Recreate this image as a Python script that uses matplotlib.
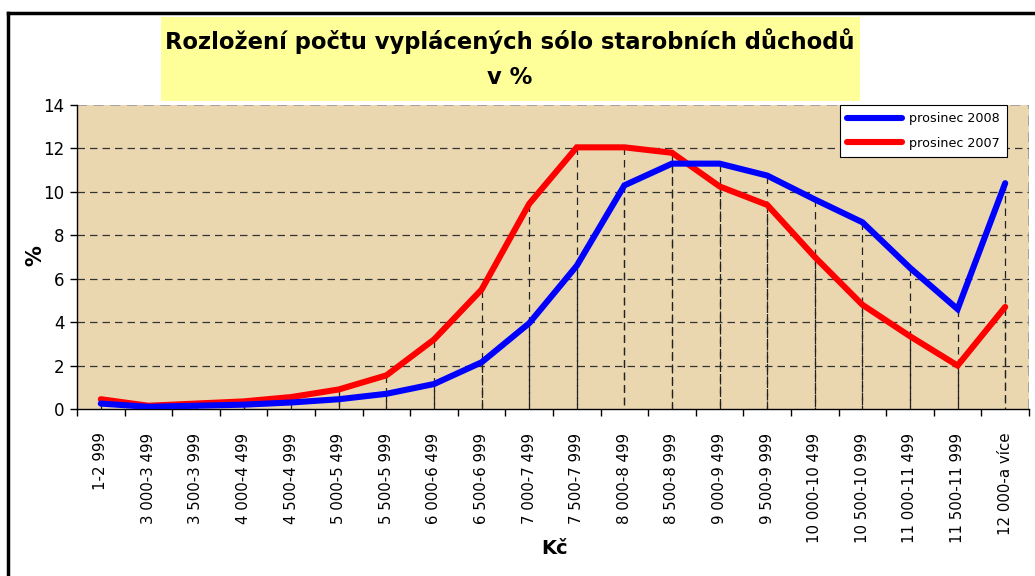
import matplotlib
matplotlib.use("Agg")
import matplotlib.pyplot as plt
from matplotlib.lines import Line2D
from matplotlib.patches import Rectangle

categories = ["1-2 999", "3 000-3 499", "3 500-3 999", "4 000-4 499", "4 500-4 999",
              "5 000-5 499", "5 500-5 999", "6 000-6 499", "6 500-6 999", "7 000-7 499",
              "7 500-7 999", "8 000-8 499", "8 500-8 999", "9 000-9 499", "9 500-9 999",
              "10 000-10 499", "10 500-10 999", "11 000-11 499", "11 500-11 999", "12 000-a více"]
dec2008 = [0.25, 0.1, 0.15, 0.2, 0.3, 0.45, 0.7, 1.15, 2.15, 3.95,
           6.6, 10.3, 11.3, 11.3, 10.75, 9.65, 8.6, 6.5, 4.6, 10.4]
dec2007 = [0.45, 0.15, 0.25, 0.35, 0.55, 0.9, 1.55, 3.2, 5.5, 9.45,
           12.05, 12.05, 11.8, 10.25, 9.4, 7.0, 4.8, 3.35, 2.0, 4.7]
series_names = ["prosinec 2008", "prosinec 2007"]
yticks = [0, 2, 4, 6, 8, 10, 12, 14]

W, H = 1035, 576
fig = plt.figure(figsize=(W / 100, H / 100), dpi=100)
fig.patch.set_facecolor("white")

def fx(px):
    return px / W

def fy(py):
    return 1 - py / H

# outer frame
fig.add_artist(Line2D([fx(8), fx(1035)], [fy(13), fy(13)], color="black", lw=2.5,
                      transform=fig.transFigure))
fig.add_artist(Line2D([fx(8), fx(8)], [fy(13), fy(576)], color="black", lw=2.5,
                      transform=fig.transFigure))

# title box
fig.add_artist(Rectangle((fx(161), fy(101)), fx(860) - fx(161), fy(17) - fy(101),
                         facecolor="#FFFF99", edgecolor="none", transform=fig.transFigure))
fig.text(fx(510), fy(41), "Rozložení počtu vyplácených sólo starobních důchodů",
         ha="center", va="center", fontsize=16.3, fontweight="bold", family="DejaVu Sans")
fig.text(fx(510), fy(77), "v %", ha="center", va="center", fontsize=16.3,
         fontweight="bold", family="DejaVu Sans")

left, right, top, bottom = 77, 1029, 105, 409
ax = fig.add_axes([fx(left), fy(bottom), fx(right) - fx(left), fy(top) - fy(bottom)])
ax.set_facecolor("#EAD7B0")

n = len(categories)
x = list(range(n))
ax.set_xlim(-0.5, n - 0.5)
ax.set_ylim(0, 14)

# horizontal gridlines
for v in yticks[1:-1]:
    ax.axhline(v, color="#333333", lw=0.9, ls=(0, (6, 4)), zorder=1)
ax.axhline(14, color="#999999", lw=1.2, ls=(0, (6, 4)), zorder=1)

# drop lines
for xi, a, b in zip(x, dec2008, dec2007):
    ax.plot([xi, xi], [a, 0], color="#222222", lw=0.9, ls=(0, (6, 4)), zorder=2)
    ax.plot([xi, xi], [b, 0], color="#222222", lw=0.9, ls=(0, (6, 4)), zorder=2)

l1, = ax.plot(x, dec2008, color="#0000FF", lw=4.4, solid_joinstyle="miter",
              solid_capstyle="round", zorder=4, label=series_names[0])
l2, = ax.plot(x, dec2007, color="#FF0000", lw=4.4, solid_joinstyle="miter",
              solid_capstyle="round", zorder=3, label=series_names[1])

for s in ["top", "right"]:
    ax.spines[s].set_visible(False)
ax.axvline(n - 0.5, color="#999999", lw=1.2, ls=(0, (6, 4)), zorder=1)
ax.spines["left"].set_color("black")
ax.spines["bottom"].set_color("black")
ax.spines["left"].set_linewidth(1)
ax.spines["bottom"].set_linewidth(1)

ax.set_yticks(yticks)
ax.set_yticklabels([str(v) for v in yticks], fontsize=12)
ax.set_xticks(x)
ax.set_xticklabels(categories, rotation=90, fontsize=10.8, va="top")
ax.set_xticks([i - 0.5 for i in range(n + 1)], minor=True)
ax.tick_params(axis="x", which="major", length=0, pad=17)
ax.tick_params(axis="x", which="minor", length=5, width=1, direction="out")
ax.tick_params(axis="y", length=5, width=1, direction="out", pad=4)

leg = ax.legend(handles=[l1, l2], loc="upper right",
                bbox_to_anchor=((1007 - left) / (right - left), 1.0),
                fontsize=9.2, frameon=True, fancybox=False, edgecolor="black",
                handlelength=4.3, borderpad=0.55, labelspacing=0.9, handletextpad=0.6,
                borderaxespad=0)
leg.get_frame().set_linewidth(0.8)
leg.get_frame().set_facecolor("white")
leg.get_frame().set_alpha(1)

fig.text(fx(35), fy(256), "%", rotation=90, ha="center", va="center",
         fontsize=15, fontweight="bold")
fig.text(fx(555), fy(548), "Kč", ha="center", va="center", fontsize=14, fontweight="bold")

fig.savefig("out.png", dpi=100)
